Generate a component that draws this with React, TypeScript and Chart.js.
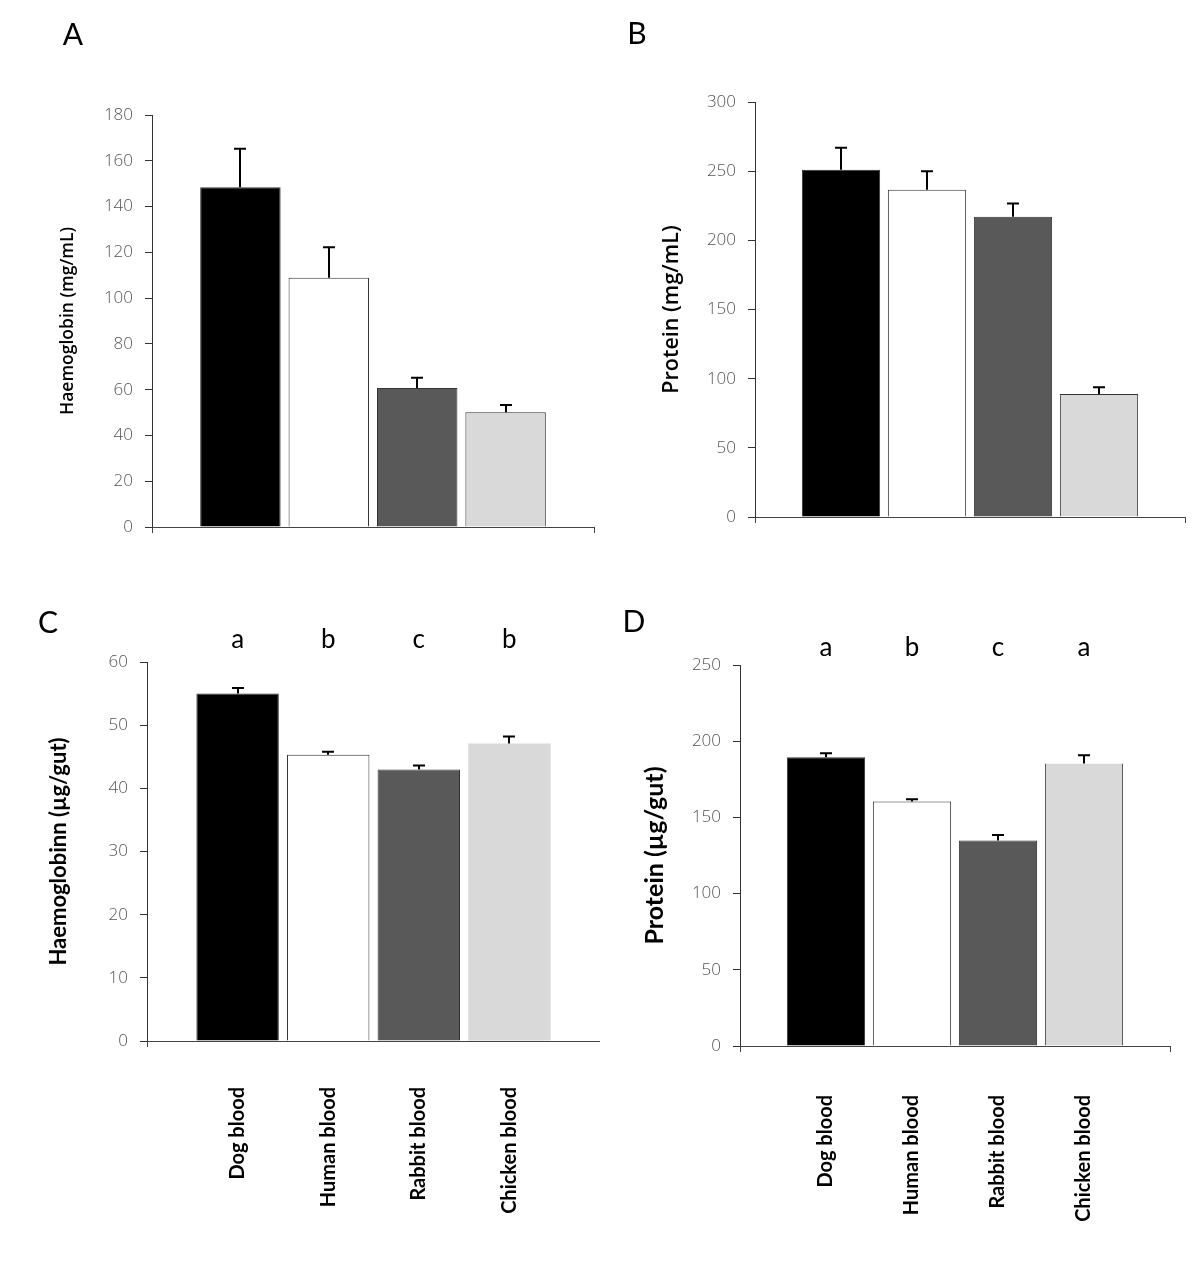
import React, { useEffect, useRef } from 'react';
import { Chart, registerables } from 'chart.js';

Chart.register(...registerables);

// ---- data ----
const categories = ['Dog blood', 'Human blood', 'Rabbit blood', 'Chicken blood'];
const barColors = ['#000000', '#ffffff', '#595959', '#d9d9d9'];

const haemoglobinMgMl = [148.4, 108.9, 60.7, 50.1];
const haemoglobinMgMlErr = [16.9, 13.3, 4.5, 3.2];

const proteinMgMl = [251, 236.6, 217, 89];
const proteinMgMlErr = [16, 13.4, 9.6, 4.8];

const haemoglobinUgGut = [55.0, 45.3, 43.0, 47.1];
const haemoglobinUgGutErr = [0.9, 0.5, 0.6, 1.1];

const proteinUgGut = [189.5, 160.4, 134.8, 185.3];
const proteinUgGutErr = [2.6, 1.5, 3.7, 5.5];

const lettersC = ['a', 'b', 'c', 'b'];
const lettersD = ['a', 'b', 'c', 'a'];

type Box = { left: number; top: number; width: number; height: number };
type Area = { left: number; top: number; right: number; bottom: number };

type PanelCfg = {
  label: string;
  labelPos: { x: number; y: number };
  values: number[];
  errors: number[];
  yMax: number;
  yStep: number;
  yTitle: string;
  titleFamily: string;
  titleWeight: any;
  titleSize: number;
  titleX: number;
  box: Box;
  area: Area;
  showCats: boolean;
  catPadding: number;
  letters?: string[];
  lettersBaseline?: number;
  borderWidths: any[];
};

const panels: PanelCfg[] = [
  {
    label: 'A',
    labelPos: { x: 73, y: 35 },
    values: haemoglobinMgMl,
    errors: haemoglobinMgMlErr,
    yMax: 180,
    yStep: 20,
    yTitle: 'Haemoglobin (mg/mL)',
    titleFamily: '"Open Sans", Lato, sans-serif',
    titleWeight: 600,
    titleSize: 17.5,
    titleX: 68,
    box: { left: 0, top: 0, width: 600, height: 580 },
    area: { left: 152, top: 115, right: 594, bottom: 527 },
    showCats: false,
    catPadding: 10,
    borderWidths: [1, 1, 1, 1],
  },
  {
    label: 'B',
    labelPos: { x: 637, y: 34 },
    values: proteinMgMl,
    errors: proteinMgMlErr,
    yMax: 300,
    yStep: 50,
    yTitle: 'Protein (mg/mL)',
    titleFamily: '"Open Sans", Lato, sans-serif',
    titleWeight: 600,
    titleSize: 21.5,
    titleX: 672,
    box: { left: 600, top: 0, width: 600, height: 580 },
    area: { left: 755, top: 102, right: 1185, bottom: 517 },
    showCats: false,
    catPadding: 10,
    borderWidths: [1, 1, 1, 1],
  },
  {
    label: 'C',
    labelPos: { x: 48, y: 623 },
    values: haemoglobinUgGut,
    errors: haemoglobinUgGutErr,
    yMax: 60,
    yStep: 10,
    yTitle: 'Haemoglobinn (µg/gut)',
    titleFamily: 'Lato, "Open Sans", sans-serif',
    titleWeight: 'bold',
    titleSize: 22,
    titleX: 59,
    box: { left: 0, top: 580, width: 600, height: 681 },
    area: { left: 147, top: 662, right: 601, bottom: 1041 },
    showCats: true,
    catPadding: 40,
    letters: lettersC,
    lettersBaseline: 648,
    borderWidths: [1, 1, 1, 0],
  },
  {
    label: 'D',
    labelPos: { x: 634, y: 622 },
    values: proteinUgGut,
    errors: proteinUgGutErr,
    yMax: 250,
    yStep: 50,
    yTitle: 'Protein (µg/gut)',
    titleFamily: 'Lato, "Open Sans", sans-serif',
    titleWeight: 'bold',
    titleSize: 25,
    titleX: 655,
    box: { left: 600, top: 580, width: 600, height: 681 },
    area: { left: 740, top: 665, right: 1170, bottom: 1046 },
    showCats: true,
    catPadding: 43,
    letters: lettersD,
    lettersBaseline: 656,
    borderWidths: [1, 1, 1, { left: 1, right: 1, top: 0, bottom: 0 }],
  },
];

const errorBarPlugin = {
  id: 'errorBars',
  afterDatasetsDraw(chart: any, _args: any, opts: any) {
    const { ctx } = chart;
    const meta = chart.getDatasetMeta(0);
    const yScale = chart.scales.y;
    ctx.save();
    ctx.strokeStyle = '#000';
    ctx.lineWidth = 2;
    meta.data.forEach((bar: any, i: number) => {
      const topY = yScale.getPixelForValue(opts.values[i] + opts.errors[i]);
      const x = Math.round(bar.x);
      ctx.beginPath();
      ctx.moveTo(x, bar.y);
      ctx.lineTo(x, topY);
      ctx.moveTo(x - opts.cap, topY);
      ctx.lineTo(x + opts.cap, topY);
      ctx.stroke();
    });
    ctx.restore();
  },
};

const textPlugin = {
  id: 'panelText',
  afterDraw(chart: any, _args: any, opts: any) {
    const { ctx } = chart;
    ctx.save();
    ctx.fillStyle = '#000';
    ctx.font = '30px Lato, "Open Sans", sans-serif';
    ctx.textAlign = 'center';
    ctx.textBaseline = 'middle';
    ctx.fillText(opts.label, opts.labelX, opts.labelY);
    if (opts.letters) {
      const meta = chart.getDatasetMeta(0);
      ctx.font = '26px Lato, "Open Sans", sans-serif';
      ctx.textBaseline = 'alphabetic';
      meta.data.forEach((bar: any, i: number) => {
        ctx.fillText(opts.letters[i], bar.x, opts.lettersBaseline);
      });
    }
    ctx.restore();
  },
};

function Panel({ cfg }: { cfg: PanelCfg }) {
  const ref = useRef<HTMLCanvasElement>(null);
  useEffect(() => {
    const c = cfg;
    const titleLineHeight = c.titleSize * 1.2;
    const chart = new Chart(ref.current as HTMLCanvasElement, {
      type: 'bar',
      data: {
        datasets: [
          {
            data: c.values.map((v, i) => ({ x: i + 1, y: v })) as any,
            backgroundColor: barColors,
            borderColor: '#333333',
            borderWidth: c.borderWidths as any,
            barPercentage: 0.91,
            categoryPercentage: 1,
          },
        ],
      },
      options: {
        responsive: false,
        animation: false,
        layout: {
          padding: {
            left: 0,
            top: c.area.top - c.box.top,
            right: c.box.left + c.box.width - c.area.right,
            bottom: 0,
          },
        },
        plugins: {
          legend: { display: false },
          tooltip: { enabled: false },
          errorBars: { values: c.values, errors: c.errors, cap: 6 },
          panelText: {
            label: c.label,
            labelX: c.labelPos.x - c.box.left,
            labelY: c.labelPos.y - c.box.top,
            letters: c.letters,
            lettersBaseline: (c.lettersBaseline ?? 0) - c.box.top,
          },
        } as any,
        scales: {
          x: {
            type: 'linear',
            min: 0,
            max: 5,
            offset: false,
            afterBuildTicks: (s: any) => {
              s.ticks = [0, 1, 2, 3, 4, 5].map((v) => ({ value: v }));
            },
            afterFit: (s: any) => {
              s.height = c.box.top + c.box.height - c.area.bottom;
              s.paddingLeft = 0;
              s.paddingRight = 0;
            },
            grid: {
              display: true,
              drawOnChartArea: false,
              offset: false,
              tickLength: 6,
              tickWidth: 1,
              tickColor: (ctx: any) =>
                ctx.tick && (ctx.tick.value === 0 || ctx.tick.value === 5) ? '#444444' : 'rgba(0,0,0,0)',
            },
            border: { display: true, color: '#444444', width: 1 },
            ticks: {
              autoSkip: false,
              maxRotation: 90,
              minRotation: 90,
              padding: c.catPadding,
              color: '#000',
              font: { family: 'Lato, "Open Sans", sans-serif', size: 20, weight: 'bold' },
              callback: (v: any) => (c.showCats ? categories[Number(v) - 1] ?? '' : ''),
            },
          } as any,
          y: {
            type: 'linear',
            min: 0,
            max: c.yMax,
            afterFit: (s: any) => {
              s.width = c.area.left - c.box.left;
              s.paddingTop = 0;
              s.paddingBottom = 0;
            },
            grid: {
              display: true,
              drawOnChartArea: false,
              tickLength: 7,
              tickColor: '#333333',
            },
            border: { display: true, color: '#333333', width: 1 },
            ticks: {
              stepSize: c.yStep,
              padding: 12,
              color: '#555555',
              font: { family: '"Open Sans", sans-serif', size: 17, weight: 300 },
            },
            title: {
              display: true,
              text: c.yTitle,
              color: '#000',
              font: {
                family: c.titleFamily,
                size: c.titleSize,
                weight: c.titleWeight,
              },
              padding: { top: c.titleX - c.box.left - titleLineHeight / 2, bottom: 0 },
            },
          } as any,
        },
      },
      plugins: [errorBarPlugin, textPlugin],
    });
    return () => chart.destroy();
  }, [cfg]);
  return (
    <canvas
      ref={ref}
      width={cfg.box.width}
      height={cfg.box.height}
      style={{
        position: 'absolute',
        left: cfg.box.left,
        top: cfg.box.top,
        width: cfg.box.width,
        height: cfg.box.height,
      }}
    />
  );
}

export default function App() {
  return (
    <div
      style={{
        position: 'absolute',
        left: 0,
        top: 0,
        width: 1200,
        height: 1261,
        background: '#ffffff',
        overflow: 'hidden',
      }}
    >
      {panels.map((p) => (
        <Panel key={p.label} cfg={p} />
      ))}
    </div>
  );
}
